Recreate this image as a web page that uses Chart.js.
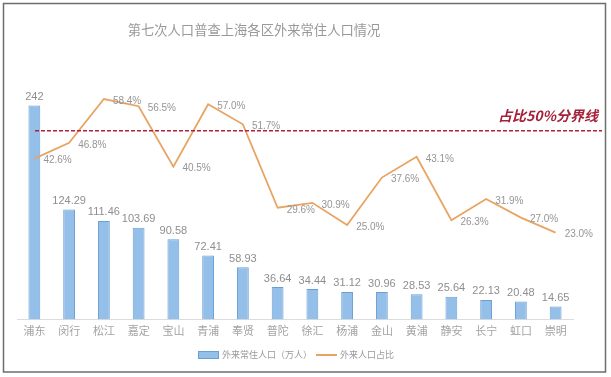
<!DOCTYPE html>
<html lang="zh-CN">
<head>
    <meta charset="UTF-8">
    <title>第七次人口普查上海各区外来常住人口情况</title>
    <script src="https://cdn.jsdelivr.net/npm/chart.js"></script>
    <style>
        body { margin: 0; background: #fff; }
        #wrap { width: 611px; height: 377px; }
    </style>
</head>
<body>
    <div id="wrap"><canvas id="chart" width="611" height="377"></canvas></div>

    <script>
        // 数据
        const districts = ['浦东', '闵行', '松江', '嘉定', '宝山', '青浦', '奉贤', '普陀', '徐汇', '杨浦', '金山', '黄浦', '静安', '长宁', '虹口', '崇明'];
        const migrantPop = [242, 124.29, 111.46, 103.69, 90.58, 72.41, 58.93, 36.64, 34.44, 31.12, 30.96, 28.53, 25.64, 22.13, 20.48, 14.65];
        const migrantShare = [42.6, 46.8, 58.4, 56.5, 40.5, 57.0, 51.7, 29.6, 30.9, 25.0, 37.6, 43.1, 26.3, 31.9, 27.0, 23.0];
        const threshold = 50;

        const titleText = '第七次人口普查上海各区外来常住人口情况';
        const barLabel = '外来常住人口（万人）';
        const lineLabel = '外来人口占比';
        const thresholdText = '占比50%分界线';

        const cjk = '"Noto Sans CJK SC", "Noto Sans", sans-serif';
        const barFill = '#93BFE8';
        const barEdge = '#6A9FD4';
        const lineColor = '#E8A463';

        // 标题、边框、数值标签、50%分界线、图例
        const extras = {
            id: 'extras',
            beforeDraw(chart) {
                const c = chart.ctx;
                c.save();
                c.fillStyle = '#fff';
                c.fillRect(0, 0, chart.width, chart.height);
                c.strokeStyle = '#6d6d6d';
                c.lineWidth = 1.5;
                c.strokeRect(3.5, 3.5, 602, 368.5);
                c.restore();
            },
            afterDatasetsDraw(chart) {
                const c = chart.ctx;
                const y1 = chart.scales.y1;
                c.save();

                // 柱子数值
                const barMeta = chart.getDatasetMeta(0);
                c.font = '11px "Liberation Sans", Arial, sans-serif';
                c.fillStyle = '#8e8e8e';
                c.textAlign = 'center';
                c.textBaseline = 'bottom';
                barMeta.data.forEach((bar, i) => {
                    c.fillText(String(migrantPop[i]), bar.x, bar.y - 3);
                });

                // 折线百分比
                const lineMeta = chart.getDatasetMeta(1);
                c.font = '10px "Liberation Sans", Arial, sans-serif';
                c.fillStyle = '#959595';
                c.textAlign = 'left';
                c.textBaseline = 'middle';
                lineMeta.data.forEach((pt, i) => {
                    c.fillText(migrantShare[i].toFixed(1) + '%', pt.x + 9, pt.y + 2);
                });

                // 50% 分界线
                const yLine = y1.getPixelForValue(threshold);
                c.strokeStyle = '#B0203F';
                c.lineWidth = 1.5;
                c.setLineDash([4, 2]);
                c.beginPath();
                c.moveTo(35, yLine);
                c.lineTo(602, yLine);
                c.stroke();
                c.setLineDash([]);

                c.font = 'italic bold 14px ' + cjk;
                c.fillStyle = '#A3213A';
                c.textAlign = 'right';
                c.textBaseline = 'middle';
                c.fillText(thresholdText, 598, yLine - 15);

                // 标题
                c.font = '13.3px ' + cjk;
                c.fillStyle = '#999';
                c.textAlign = 'center';
                c.fillText(titleText, 254, 30);

                // 图例
                const ly = 355;
                c.fillStyle = barFill;
                c.strokeStyle = barEdge;
                c.lineWidth = 1;
                c.fillRect(198, ly - 3.5, 21, 7);
                c.strokeRect(198.5, ly - 3.5, 20, 7);
                c.font = '9px ' + cjk;
                c.fillStyle = '#999';
                c.textAlign = 'left';
                c.fillText(barLabel, 222, ly);
                c.strokeStyle = lineColor;
                c.lineWidth = 2;
                c.beginPath();
                c.moveTo(316, ly);
                c.lineTo(337, ly);
                c.stroke();
                c.fillText(lineLabel, 340, ly);

                c.restore();
            }
        };

        const ctx = document.getElementById('chart').getContext('2d');
        const chart = new Chart(ctx, {
            data: {
                labels: districts,
                datasets: [
                    {
                        type: 'bar',
                        label: barLabel,
                        data: migrantPop,
                        yAxisID: 'y',
                        backgroundColor: barFill,
                        borderColor: barEdge,
                        borderWidth: 1,
                        categoryPercentage: 1,
                        barPercentage: 0.34,
                        order: 2
                    },
                    {
                        type: 'line',
                        label: lineLabel,
                        data: migrantShare,
                        yAxisID: 'y1',
                        borderColor: lineColor,
                        backgroundColor: lineColor,
                        borderWidth: 1.8,
                        pointRadius: 0,
                        tension: 0,
                        order: 1
                    }
                ]
            },
            options: {
                responsive: false,
                animation: false,
                devicePixelRatio: 1,
                layout: {
                    padding: { top: 93, left: 17, right: 38, bottom: 31.5 }
                },
                plugins: {
                    legend: { display: false },
                    title: { display: false },
                    tooltip: { enabled: false }
                },
                scales: {
                    x: {
                        grid: { display: false, drawTicks: false },
                        border: { color: '#dcdcdc', width: 1 },
                        ticks: {
                            color: '#a3a3a3',
                            font: { size: 11, family: cjk },
                            padding: 5,
                            maxRotation: 0,
                            autoSkip: false
                        },
                        afterFit: function(scale) { scale.height = 26; }
                    },
                    y: {
                        display: false,
                        min: 0,
                        max: 256
                    },
                    y1: {
                        display: false,
                        position: 'right',
                        min: 0,
                        max: 60
                    }
                }
            },
            plugins: [extras]
        });
    </script>
</body>
</html>
